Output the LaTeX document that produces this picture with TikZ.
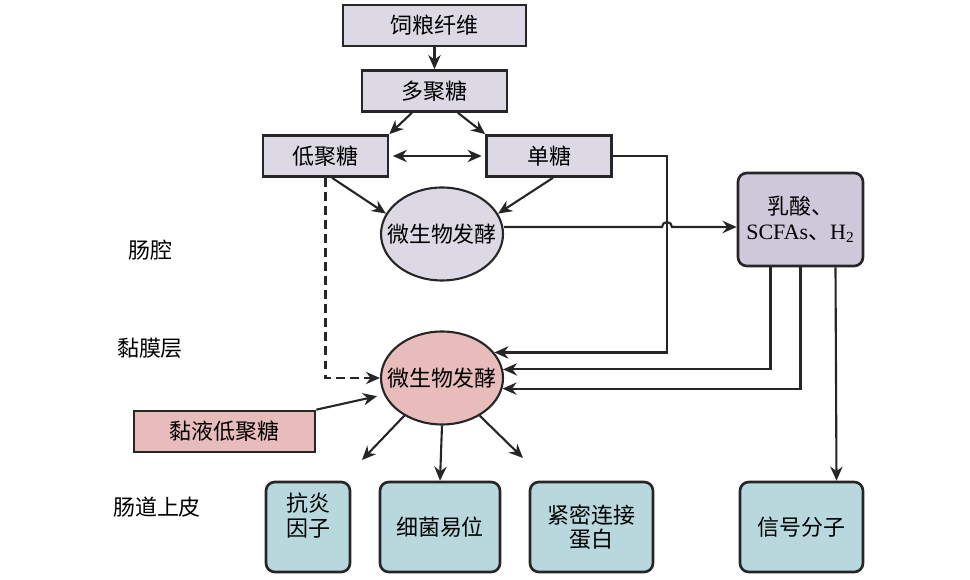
\documentclass[tikz,border=0pt]{standalone}
\usepackage{fontspec}
\setmainfont{Liberation Serif}
\newfontfamily\cjk{Noto Sans CJK SC}
\usepackage{tikz}
\usetikzlibrary{arrows.meta,shapes,calc}
\definecolor{feedgray}{RGB}{220,217,229}
\definecolor{prodgray}{RGB}{206,200,218}
\definecolor{mucuspink}{RGB}{231,188,186}
\definecolor{epiblue}{RGB}{184,216,222}
\tikzset{>={Stealth[length=8pt,width=7pt]}}
\tikzstyle{sugarbox}=[rectangle, draw=black!85, line width=1.5pt, fill=feedgray, minimum height=0.82cm, inner sep=0pt]
\tikzstyle{fermnode}=[ellipse, draw=black!85, line width=1.2pt, minimum width=2.44cm, minimum height=1.86cm, inner sep=0pt]
\tikzstyle{prodbox}=[rectangle, rounded corners=5pt, draw=black!85, line width=1.5pt, fill=prodgray, minimum width=2.5cm, minimum height=1.86cm, align=center]
\tikzstyle{epibox}=[rectangle, rounded corners=5pt, draw=black!85, line width=1.5pt, fill=epiblue, minimum height=1.8cm, align=center]
\tikzstyle{flow}=[draw=black!85, line width=1.2pt, ->]

\begin{document}
\begin{tikzpicture}[x=0.02cm, y=-0.02cm, font=\cjk\fontsize{12.5}{14}\selectfont]
	\useasboundingbox (0,0) rectangle (970,580);
	% lumen
	\node[sugarbox, minimum width=3.66cm] (fiber) at (434.5,25.5) {饲粮纤维};
	\node[sugarbox, minimum width=2.9cm] (poly) at (434.5,91) {多聚糖};
	\node[sugarbox, minimum width=2.5cm] (oligo) at (325.5,156) {低聚糖};
	\node[sugarbox, minimum width=2.5cm] (mono) at (549,156) {单糖};
	\node[fermnode, fill=feedgray, label=center:微生物发酵] (ferm1) at (442,234) {};
	\node[prodbox] (prod) at (800.5,219.5) {乳酸、\\{\rmfamily SCFAs}、{\rmfamily H\textsubscript{2}}};
	% mucosa
	\node[fermnode, fill=mucuspink, label=center:微生物发酵] (ferm2) at (442,378) {};
	\node[sugarbox, fill=mucuspink, minimum width=3.62cm] (mucus) at (224.5,431.5) {黏液低聚糖};
	% epithelium
	\node[epibox, minimum width=1.68cm] (anti) at (308,527) {抗炎\\因子\\~};
	\node[epibox, minimum width=2.4cm] (trans) at (440,527) {细菌易位};
	\node[epibox, minimum width=2.46cm] (tight) at (591.5,527) {紧密连接\\蛋白};
	\node[epibox, minimum width=2.46cm] (signal) at (801.5,527) {信号分子};
	\node (lumen) at (150,250) {肠腔};
	\node (mucosa) at (150,348) {黏膜层};
	\node (epith) at (157,507) {肠道上皮};

	\draw[flow] (fiber) -- (poly);
	\draw[flow] (poly.224) -- (oligo.north east);
	\draw[flow] (poly.317) -- (mono.north west);
	\draw[flow, <->, shorten <=2pt, shorten >=2pt] (oligo) -- (mono);
	\draw[flow] ([xshift=0.13cm]oligo.south) -- (ferm1.160);
	\draw[flow] ([xshift=0.08cm]mono.south) -- (ferm1.20);
	\coordinate (hop) at (667,227);
	\draw[flow] (ferm1.east |- hop) -- ([xshift=-0.1cm]hop) arc[start angle=180, end angle=0, radius=0.1cm] -- (prod.west |- hop);
	\draw[flow] (mono.east) -| (hop) |- (ferm2.26);
	\draw[flow] ([xshift=-0.6cm]prod.south) |- (ferm2.8);
	\draw[flow] (prod.south) |- (ferm2.-10);
	\draw[flow] ([xshift=0.7cm]prod.south) -- ([xshift=0.7cm]signal.north);
	\draw[flow, dash pattern=on 5pt off 3pt] (oligo.south) |- (ferm2.west);
	\draw[flow, shorten >=4pt] (mucus.north east) -- (ferm2.196);
	\coordinate (antitip) at (362,460);
	\coordinate (tighttip) at (523,458);
	\draw[flow] (ferm2.225) -- (antitip);
	\draw[flow] (ferm2.south) -- (trans.north);
	\draw[flow] (ferm2.315) -- (tighttip);
\end{tikzpicture}
\end{document}
